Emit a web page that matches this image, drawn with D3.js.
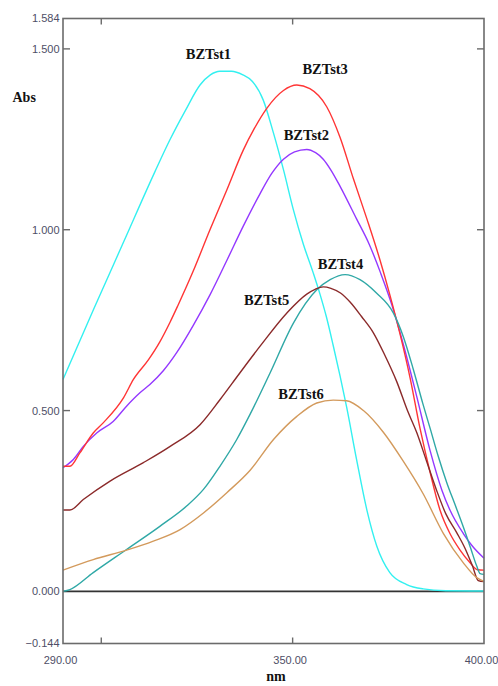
<!DOCTYPE html>
<html><head><meta charset="utf-8">
<script src="https://cdn.jsdelivr.net/npm/d3@7/dist/d3.min.js"></script>
<style>body{margin:0;background:#fff}svg{display:block}</style>
</head><body>
<svg id="chart" width="498" height="686"></svg>
<script>
const seriesNames = ["BZTst1","BZTst2","BZTst3","BZTst4","BZTst5","BZTst6"];
const seriesColors = ["#33f0f0","#9438ff","#ff3535","#2fa8a6","#8b2a2a","#d39a5c"];

const bzt1 = [[290,0.586],[298,0.780],[306,0.970],[314,1.160],[318,1.250],[322,1.330],[325.8,1.400],[328.5,1.428],[331,1.438],[334,1.438],[337,1.428],[339.5,1.410],[342.3,1.359],[345.0,1.267],[347.6,1.166],[350.2,1.055],[352.8,0.960],[355.4,0.880],[357.2,0.820],[358.8,0.760],[360.6,0.680],[362.4,0.595],[364.1,0.510],[366.7,0.365],[369.4,0.225],[372.0,0.125],[375.4,0.052],[379.8,0.019],[384.1,0.007],[390,0.002],[400,0.001]];
const bzt2 = [[290,0.342],[292.7,0.365],[295.3,0.401],[298.8,0.438],[303.1,0.470],[306.6,0.512],[310.1,0.549],[312.7,0.572],[316.2,0.610],[319.7,0.660],[324.0,0.735],[328.4,0.820],[332.8,0.915],[337.1,1.010],[341.5,1.100],[344.5,1.155],[347.6,1.195],[350.5,1.215],[353.7,1.222],[356,1.213],[358,1.195],[360,1.165],[362.4,1.120],[366.7,1.030],[370,0.960],[373,0.880],[376,0.790],[379,0.680],[382.4,0.540],[385.9,0.390],[389,0.280],[391.1,0.225],[394.6,0.160],[397,0.125],[400,0.092]];
const bzt3 = [[290,0.346],[291.8,0.346],[294.4,0.383],[297.9,0.438],[300.5,0.466],[305.8,0.535],[308.4,0.586],[312.3,0.640],[315.3,0.690],[318,0.745],[320,0.790],[324,0.885],[328.4,1.000],[332.8,1.110],[337.1,1.220],[340,1.280],[343.2,1.335],[347.6,1.385],[351.1,1.400],[354.5,1.390],[358.9,1.340],[362.4,1.255],[365.9,1.140],[369.4,1.030],[372.8,0.917],[375.4,0.820],[378.1,0.710],[380.7,0.590],[383.3,0.450],[385.9,0.330],[388.5,0.225],[391.1,0.160],[393.7,0.115],[396.3,0.080],[398.3,0.060],[400,0.059]];
const bzt4 = [[290,0.0],[291.8,0.005],[297.9,0.052],[306.6,0.116],[315.3,0.180],[322.3,0.236],[326.7,0.282],[331.0,0.346],[335.4,0.420],[338.9,0.490],[344.1,0.604],[350.2,0.742],[356.3,0.834],[359.8,0.862],[363.7,0.876],[367.6,0.862],[371.9,0.825],[376.3,0.770],[378.9,0.705],[381.5,0.615],[384,0.520],[386,0.448],[388,0.375],[390.3,0.300],[392.5,0.238],[394.6,0.178],[396.5,0.120],[398.1,0.070],[399,0.049],[400,0.047]];
const bzt5 = [[290,0.225],[291.8,0.225],[295.3,0.254],[302.3,0.305],[311.0,0.356],[318.0,0.401],[325.8,0.461],[331.0,0.530],[336.2,0.604],[341.5,0.678],[348.5,0.770],[353.7,0.822],[356,0.836],[358,0.842],[360,0.838],[362.5,0.825],[365,0.800],[368,0.760],[371.1,0.715],[374,0.655],[377.2,0.580],[380,0.500],[382.4,0.440],[385,0.360],[387.6,0.280],[390,0.215],[392.9,0.162],[395,0.120],[397,0.070],[398.5,0.030],[400,0.027]];
const bzt6 = [[290,0.059],[297.9,0.088],[306.6,0.114],[313.6,0.139],[320.6,0.171],[326.7,0.217],[332.8,0.273],[338.9,0.335],[345.0,0.420],[351.1,0.484],[356.3,0.521],[360.6,0.529],[364.1,0.527],[368.5,0.500],[373.7,0.440],[378.9,0.360],[384.1,0.270],[389.4,0.160],[394.6,0.079],[398.1,0.038],[400,0.028]];
const seriesValues = [bzt1,bzt2,bzt3,bzt4,bzt5,bzt6];

// label anchors (nm, Abs)
const labelAnchors = [[328.0,1.472],[353.6,1.248],[358.5,1.430],[362.5,0.891],[343.2,0.792],[352.2,0.532]];

const xTickLabels = [290,350,400];
const xMinorTicks = [300,350];
const yTickLabels = [-0.144,0.0,0.5,1.0,1.5,1.584];
const yMarkTicks = [0.5,1.0,1.5];

const svg = d3.select("#chart");
const L=63, R=484, T=18.5, B=643.5;
const x = d3.scaleLinear().domain([290,400]).range([L,R]);
const y = d3.scaleLinear().domain([-0.144,1.584]).range([B,T]);

const frameColor = "#6b6b6b";
const tickText = "#4e4e66";

// zero line
svg.append("line").attr("x1",L).attr("x2",R).attr("y1",y(0)).attr("y2",y(0))
  .attr("stroke","#333").attr("stroke-width",1.6);

// curves
const line = d3.line().x(d=>x(d[0])).y(d=>y(d[1])).curve(d3.curveMonotoneX);
seriesValues.forEach((s,i)=>{
  svg.append("path").datum(s).attr("d",line).attr("fill","none")
    .attr("stroke",seriesColors[i]).attr("stroke-width",1.4);
});

// frame
svg.append("rect").attr("x",L).attr("y",T).attr("width",R-L).attr("height",B-T)
  .attr("fill","none").attr("stroke",frameColor).attr("stroke-width",1.6);

// ticks
const g = svg.append("g").attr("stroke",frameColor).attr("stroke-width",1.4);
xMinorTicks.forEach(v=>{
  g.append("line").attr("x1",x(v)).attr("x2",x(v)).attr("y1",B).attr("y2",B-6);
  g.append("line").attr("x1",x(v)).attr("x2",x(v)).attr("y1",T).attr("y2",T+6);
});
yMarkTicks.forEach(v=>{
  g.append("line").attr("x1",L).attr("x2",L+7).attr("y1",y(v)).attr("y2",y(v));
  g.append("line").attr("x1",R).attr("x2",R-7).attr("y1",y(v)).attr("y2",y(v));
});

// tick labels
const fmtY = d3.format(".3f");
svg.append("g").selectAll("text").data(yTickLabels).join("text")
  .attr("x",59.5).attr("y",d=>y(d)).attr("dy","0.36em")
  .attr("text-anchor","end").attr("font-family","Liberation Sans, Arial, sans-serif")
  .attr("font-size",11).attr("fill",tickText).text(d=>fmtY(d));
const fmtX = d3.format(".2f");
svg.append("g").selectAll("text").data(xTickLabels).join("text")
  .attr("x",d=>x(d)-2.5).attr("y",664)
  .attr("text-anchor","middle").attr("font-family","Liberation Sans, Arial, sans-serif")
  .attr("font-size",11).attr("fill",tickText).text(d=>fmtX(d));

// axis titles
svg.append("text").attr("x",12.5).attr("y",102).attr("font-family","Liberation Serif, serif")
  .attr("font-weight","bold").attr("font-size",14).attr("fill","#111").text("Abs");
svg.append("text").attr("x",276).attr("y",681).attr("text-anchor","middle")
  .attr("font-family","Liberation Serif, serif").attr("font-weight","bold")
  .attr("font-size",14).attr("fill","#111").text("nm");

// series labels
svg.append("g").selectAll("text").data(seriesNames).join("text")
  .attr("x",(d,i)=>x(labelAnchors[i][0])).attr("y",(d,i)=>y(labelAnchors[i][1]))
  .attr("text-anchor","middle").attr("font-family","Liberation Serif, serif")
  .attr("font-weight","bold").attr("font-size",14.5).attr("fill","#111").text(d=>d);
</script>
</body></html>
